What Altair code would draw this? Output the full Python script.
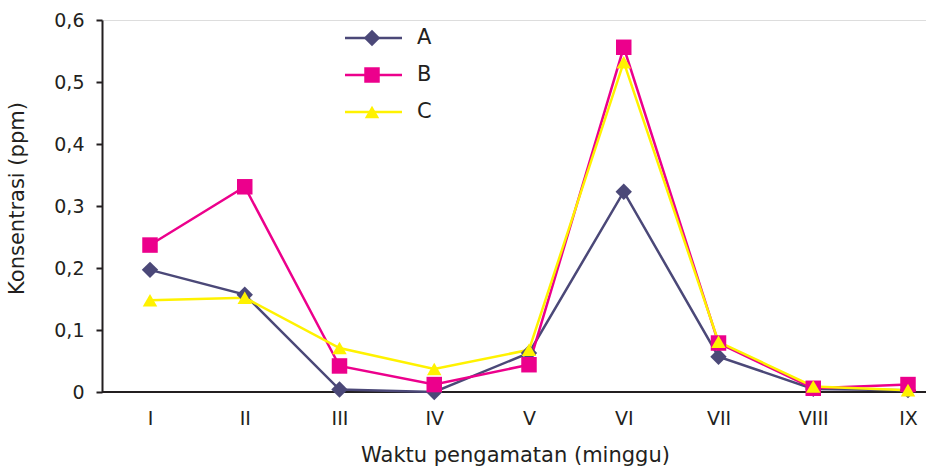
import altair as alt
import pandas as pd

weeks = ["I", "II", "III", "IV", "V", "VI", "VII", "VIII", "IX"]
series = ["A", "B", "C"]
a_vals = [0.197, 0.157, 0.004, 0.000, 0.063, 0.323, 0.057, 0.005, 0.003]
b_vals = [0.237, 0.331, 0.042, 0.012, 0.044, 0.556, 0.079, 0.006, 0.012]
c_vals = [0.148, 0.152, 0.071, 0.037, 0.068, 0.532, 0.081, 0.009, 0.003]
colors = ["#4B4878", "#EC008C", "#FFF200"]
shapes = ["diamond", "square", "triangle-up"]
sizes = [270, 210, 330]

rows = []
for s, vals in zip(series, [a_vals, b_vals, c_vals]):
    for i, (w, v) in enumerate(zip(weeks, vals)):
        rows.append({"minggu": w, "idx": i, "series": s, "value": v})
df = pd.DataFrame(rows)
leg = pd.DataFrame({"series": series})

FONT = "DejaVu Sans"
INK = "#231F20"
color_scale = alt.Scale(domain=series, range=colors)
shape_scale = alt.Scale(domain=series, range=shapes)
size_scale = alt.Scale(domain=series, range=sizes)

x_enc = alt.X(
    "minggu:O",
    scale=alt.Scale(type="point", domain=weeks, range=[48, 806], padding=0),
    axis=alt.Axis(title="Waktu pengamatan (minggu)", labelAngle=0, ticks=False,
                  domain=False, labelPadding=17,
                  titlePadding=16, titleX=413, labelFontSize=19, titleFontSize=21,
                  labelColor=INK, titleColor=INK,
                  labelFont=FONT, titleFont=FONT, titleFontWeight="normal"),
)
y_enc = alt.Y(
    "value:Q",
    scale=alt.Scale(domain=[0, 0.6], nice=False, zero=True),
    axis=alt.Axis(title="Konsentrasi (ppm)", values=[0, 0.1, 0.2, 0.3, 0.4, 0.5, 0.6],
                  labelExpr="datum.value == 0 ? '0' : replace(format(datum.value, '.1f'), '.', ',')",
                  grid=False, tickSize=6, tickWidth=2, tickColor=INK,
                  domainColor=INK, domainWidth=2, labelPadding=12,
                  titlePadding=26, titleY=178, labelFontSize=19, titleFontSize=21,
                  labelColor=INK, titleColor=INK,
                  labelFont=FONT, titleFont=FONT, titleFontWeight="normal"),
)

baseline = alt.Chart(leg).mark_rule(strokeWidth=2, color=INK).encode(
    x=alt.value(0), x2=alt.value(824), y=alt.value(372),
)
lines = alt.Chart(df).mark_line(strokeWidth=2.5).encode(
    x=x_enc, y=y_enc,
    color=alt.Color("series:N", scale=color_scale, legend=None),
    order=alt.Order("idx:Q"),
)
points = alt.Chart(df).mark_point(filled=True, opacity=1).encode(
    x=x_enc, y=alt.Y("value:Q"),
    color=alt.Color("series:N", scale=color_scale, legend=None),
    shape=alt.Shape("series:N", scale=shape_scale, legend=None),
    size=alt.Size("series:N", scale=size_scale, legend=None),
)

leg_y = alt.Y("series:N", scale=alt.Scale(type="point", domain=series, range=[18, 92], padding=0), axis=None)
leg_rule = alt.Chart(leg).mark_rule(strokeWidth=2.5).encode(
    x=alt.value(243), x2=alt.value(300), y=leg_y,
    color=alt.Color("series:N", scale=color_scale, legend=None),
)
leg_pt = alt.Chart(leg).mark_point(filled=True, opacity=1).encode(
    x=alt.value(270), y=leg_y,
    color=alt.Color("series:N", scale=color_scale, legend=None),
    shape=alt.Shape("series:N", scale=shape_scale, legend=None),
    size=alt.Size("series:N", scale=size_scale, legend=None),
)
leg_txt = alt.Chart(leg).mark_text(align="left", baseline="middle", fontSize=21,
                                   font=FONT, color=INK).encode(
    x=alt.value(315), y=leg_y, text="series:N",
)

main = alt.layer(baseline, lines, points)
legend = alt.layer(leg_rule, leg_pt, leg_txt)

chart = alt.layer(main, legend).resolve_scale(y="independent").properties(
    width=824, height=372,
    autosize=alt.AutoSizeParams(type="none"),
    padding={"left": 102, "top": 20, "right": 0, "bottom": 75},
).configure_view(stroke=None).configure(background="white")

chart.save("out.html", embed_options={"renderer": "svg", "actions": False})
